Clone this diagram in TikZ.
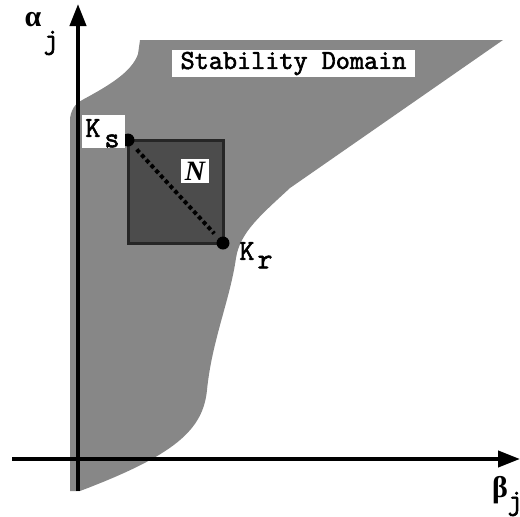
\documentclass[tikz,border=0pt]{standalone}
\usepackage{fontspec}
\setmainfont{Liberation Serif}
\newfontfamily\courfont{Latin Modern Mono}[FakeBold=2.2]
\usetikzlibrary{calc,arrows.meta}

\begin{document}
\begin{tikzpicture}[>={Triangle[length=11pt,width=8pt]},x=0.5pt,y=-0.5pt,
  lbl/.style={font=\fontsize{14.5}{16}\selectfont\courfont\bfseries,inner sep=0pt},
  greek/.style={font=\fontsize{15}{16}\selectfont\bfseries,inner sep=0pt},
  dot/.style={circle,fill=black,inner sep=0pt,minimum size=6.5pt}]
  % Frame of the picture
  \useasboundingbox (0,0) rectangle (520,516);

  % Stability domain
  \fill[black!47] (503,40) -- (290,188)
    .. controls (262,214) and (240,232) .. (236,258)
    .. controls (230,300) and (212,340) .. (207,390)
    .. controls (203,430) and (175,455) .. (80,491)
    -- (70,491) -- (70,118)
    .. controls (72,106) and (78,102) .. (84,99)
    .. controls (108,86) and (132,72) .. (138,54)
    -- (140,40) -- cycle;

  % Points K_s and K_r
  \coordinate (Ks) at (128,140);
  \coordinate (Kr) at (223,243);

  % Neighbourhood N
  \filldraw[fill=black!70,draw=black!85,line width=1.5pt] (Ks) rectangle (Kr);
  \node[fill=white,inner xsep=2pt,inner ysep=1.5pt,font=\fontsize{14}{16}\selectfont\bfseries\itshape] (Nlbl) at (195,171) {N};

  \node[dot] (Ksdot) at (Ks) {};
  \node[dot] (Krdot) at (Kr) {};
  \draw[line width=2pt,dash pattern=on 2pt off 1.5pt,shorten <=3pt,shorten >=3pt] (Ksdot) -- (Krdot);

  % Axes
  \coordinate (xstart) at (12,459);
  \coordinate (xend) at (520,459);
  \coordinate (ystart) at (78,491);
  \coordinate (yend) at (78,4);
  \draw[->,line width=2pt] (xstart) -- (xend);
  \draw[->,line width=2pt] (ystart) -- (yend);

  % Labels
  \node[lbl,font=\fontsize{13.7}{15}\selectfont\courfont\bfseries,fill=white,minimum width=121.5pt,minimum height=13.5pt] (stab) at (293.5,63.5) {Stability Domain};
  \node[lbl,fill=white,anchor=north west,minimum width=21.5pt,minimum height=16.5pt] (Ksbox) at (82,115) {};
  \node[lbl] (Kslbl) at (93,128) {K};
  \node[lbl] (Kssub) at (112,141) {s};
  \node[lbl] (Krlbl) at (247,251) {K};
  \node[lbl] (Krsub) at (265,262) {r};

  \node[greek] (alpha) at (33,20) {α};
  \node[lbl] (alphasub) at (51,43) {j};
  \node[greek] (beta) at (500,490) {β};
  \node[lbl] (betasub) at (515,504) {j};
\end{tikzpicture}
\end{document}
